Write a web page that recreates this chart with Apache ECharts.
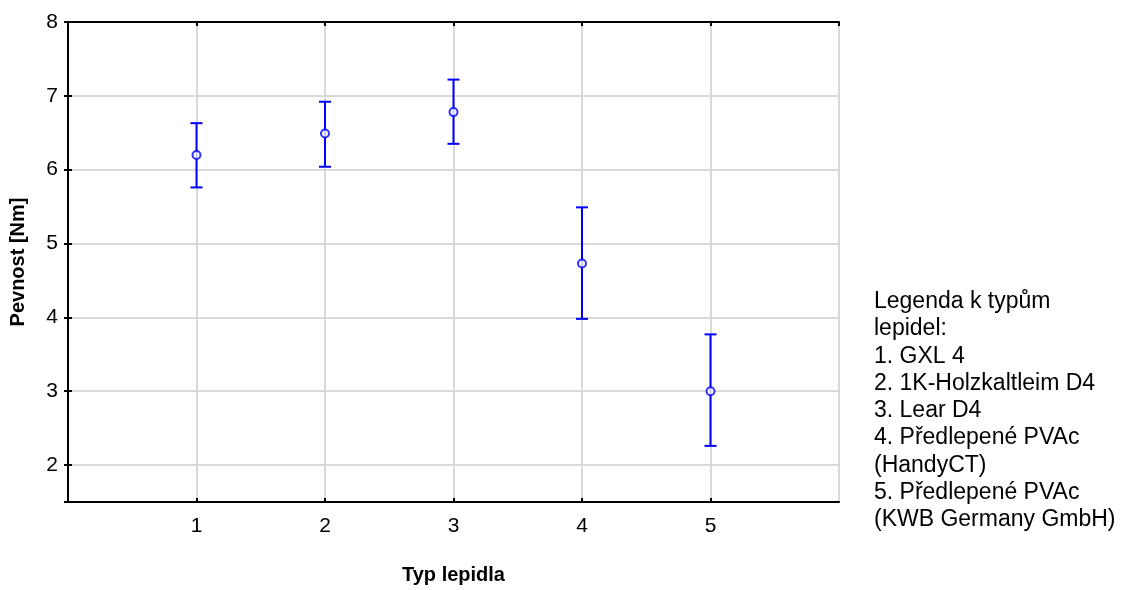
<!DOCTYPE html>
<html>
<head>
<meta charset="utf-8">
<script src="https://cdn.jsdelivr.net/npm/echarts@6/dist/echarts.min.js"></script>
<style>
  html, body { margin: 0; padding: 0; background: #fff; }
  #chart { width: 1128px; height: 590px; }
</style>
</head>
<body>
<div id="chart"></div>
<script>
// typ lepidla + pevnost (prumer a interval)
var categories = [1, 2, 3, 4, 5];
var means = [6.20, 6.49, 6.78, 4.73, 3.00];
var lower = [5.76, 6.04, 6.35, 3.98, 2.26];
var upper = [6.63, 6.92, 7.22, 5.49, 3.77];
var xTicks = [0, 1, 2, 3, 4, 5, 6];
var legendLines = [
    'Legenda k typům',
    'lepidel:',
    '1. GXL 4',
    '2. 1K-Holzkaltleim D4',
    '3. Lear D4',
    '4. Předlepené PVAc',
    '(HandyCT)',
    '5. Předlepené PVAc',
    '(KWB Germany GmbH)'
];

var font = '"Liberation Sans", Arial, sans-serif';
var blue = '#0000ff';

var errData = categories.map(function (c, i) { return [c, lower[i], upper[i]]; });
var meanData = categories.map(function (c, i) { return [c, means[i]]; });

var chart = echarts.init(document.getElementById('chart'));

var option = {
    backgroundColor: '#fff',
    animation: false,
    grid: { left: 68, top: 22, width: 771, height: 490 },
    xAxis: [{
        type: 'value',
        min: xTicks[0],
        max: xTicks[xTicks.length - 1],
        interval: 1,
        name: 'Typ lepidla',
        nameLocation: 'middle',
        nameGap: 63,
        nameTextStyle: { fontFamily: font, fontSize: 20, fontWeight: 'bold', color: '#000' },
        axisLine: { lineStyle: { color: '#000', width: 2 } },
        axisTick: { inside: true, length: 4, lineStyle: { color: '#000', width: 2 } },
        axisLabel: { showMinLabel: false, showMaxLabel: false, margin: 14, fontFamily: font, fontSize: 21, color: '#000' },
        splitLine: { show: true, lineStyle: { color: '#d9d9d9', width: 2 } }
    }, {
        type: 'value',
        position: 'top',
        min: xTicks[0],
        max: xTicks[xTicks.length - 1],
        interval: 1,
        axisLine: { lineStyle: { color: '#000', width: 2 } },
        axisTick: { inside: true, length: 4, lineStyle: { color: '#000', width: 2 } },
        axisLabel: { show: false },
        splitLine: { show: false }
    }],
    yAxis: [{
        type: 'value',
        min: 1.5,
        max: 8,
        splitNumber: 6,
        name: 'Pevnost [Nm]',
        nameLocation: 'middle',
        nameGap: 40,
        nameTextStyle: { fontFamily: font, fontSize: 20, fontWeight: 'bold', color: '#000' },
        axisLine: { show: true, lineStyle: { color: '#000', width: 2 } },
        axisTick: { show: true, inside: true, length: 4, lineStyle: { color: '#000', width: 2 } },
        axisLabel: { showMinLabel: false, margin: 10, fontFamily: font, fontSize: 21, color: '#000' },
        splitLine: { show: true, lineStyle: { color: '#d9d9d9', width: 2 } }
    }, {
        type: 'value',
        position: 'right',
        min: 1.5,
        max: 8,
        splitNumber: 6,
        axisLine: { show: true, lineStyle: { color: '#000', width: 2 } },
        axisTick: { show: true, inside: true, length: 4, lineStyle: { color: '#000', width: 2 } },
        axisLabel: { show: false },
        splitLine: { show: false }
    }],
    graphic: [{
        type: 'text',
        left: 874,
        top: 288,
        style: {
            text: legendLines.join('\n'),
            font: '23px ' + font,
            lineHeight: 27.3,
            fill: '#000'
        }
    }],
    series: [{
        type: 'custom',
        data: errData,
        z: 3,
        renderItem: function (params, api) {
            var x = api.value(0);
            var lo = api.coord([x, api.value(1)]);
            var hi = api.coord([x, api.value(2)]);
            var w = 6;
            var st = { stroke: blue, lineWidth: 2 };
            return {
                type: 'group',
                children: [
                    { type: 'line', shape: { x1: lo[0], y1: lo[1], x2: hi[0], y2: hi[1] }, style: st },
                    { type: 'line', shape: { x1: lo[0] - w, y1: lo[1], x2: lo[0] + w, y2: lo[1] }, style: st },
                    { type: 'line', shape: { x1: hi[0] - w, y1: hi[1], x2: hi[0] + w, y2: hi[1] }, style: st }
                ]
            };
        }
    }, {
        type: 'scatter',
        data: meanData,
        z: 4,
        symbol: 'circle',
        symbolSize: 8,
        itemStyle: { color: '#fff', borderColor: blue, borderWidth: 2 }
    }]
};
chart.setOption(option);
</script>
</body>
</html>
